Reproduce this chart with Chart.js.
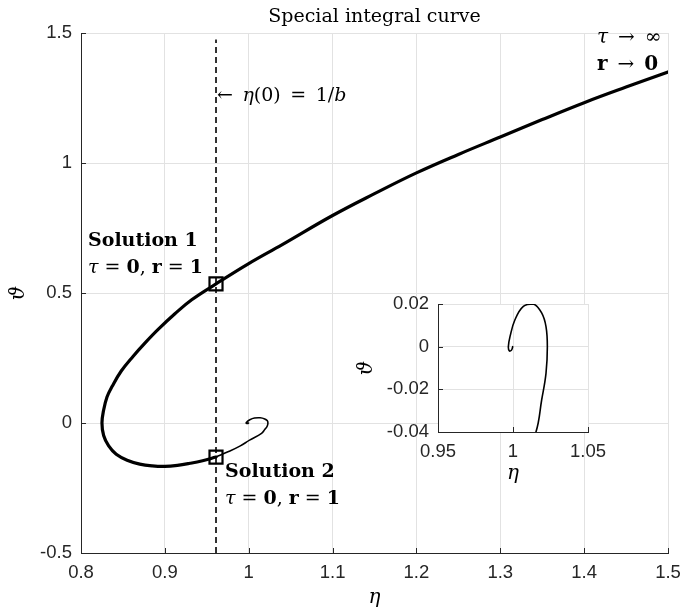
<!DOCTYPE html>
<html>
<head>
<meta charset="utf-8">
<script src="https://cdn.jsdelivr.net/npm/chart.js@4/dist/chart.umd.min.js"></script>
<style>
  html, body { margin: 0; padding: 0; background: #fff; }
  #wrap { position: relative; width: 682px; height: 612px; }
  #main { position: absolute; left: 0; top: 0; }
  #inset { position: absolute; left: 330px; top: 290px; }
</style>
</head>
<body>
<div id="wrap">
  <canvas id="main" width="682" height="612"></canvas>
  <canvas id="inset" width="280" height="200"></canvas>
</div>
<script>
// Outer branch: from solution 2 round the left loop, through solution 1, out to large eta
const outerEta = [0.961, 0.945, 0.930, 0.915, 0.900, 0.885, 0.870, 0.855, 0.842, 0.833, 0.827, 0.825,
                  0.827, 0.831, 0.837, 0.848, 0.862, 0.877, 0.892, 0.912, 0.932, 0.961, 1.000, 1.040,
                  1.100, 1.150, 1.200, 1.250, 1.300, 1.350, 1.400, 1.450, 1.500];
const outerTheta = [-0.131, -0.145, -0.155, -0.163, -0.167, -0.165, -0.158, -0.143, -0.120, -0.088, -0.048, 0.000,
                    0.050, 0.100, 0.140, 0.200, 0.256, 0.310, 0.360, 0.420, 0.474, 0.535, 0.613, 0.686,
                    0.798, 0.882, 0.962, 1.033, 1.100, 1.167, 1.232, 1.292, 1.350];

// Inner branch: from solution 2 spiralling into the fixed point (1, 0)
const innerEta = [0.961, 0.976, 0.990, 1.001, 1.0153, 1.0191, 1.0220, 1.0229, 1.0220, 1.0191, 1.0136,
                  1.0069, 1.0013, 0.9980, 0.9969, 0.9976, 0.9991, 0.9998];
const innerTheta = [-0.131, -0.110, -0.088, -0.066, -0.040, -0.025, -0.0125, 0.000, 0.0094, 0.0158, 0.0200,
                    0.0189, 0.0126, 0.0047, 0.0000, -0.0020, -0.0015, 0.0000];

// The two solutions at tau = 0
const solutionEta = [0.961, 0.961];
const solutionTheta = [0.535, -0.131];

// Initial value eta(0) = 1/b
const etaZero = 0.961;
const etaZeroTheta = [-0.5, 1.475];

// Axis ticks
const xTicks = [0.8, 0.9, 1.0, 1.1, 1.2, 1.3, 1.4, 1.5];
const xTickLabels = ['0.8', '0.9', '1', '1.1', '1.2', '1.3', '1.4', '1.5'];
const yTicks = [-0.5, 0, 0.5, 1, 1.5];
const yTickLabels = ['-0.5', '0', '0.5', '1', '1.5'];
const insetXTicks = [0.95, 1.0, 1.05];
const insetXTickLabels = ['0.95', '1', '1.05'];
const insetYTicks = [-0.04, -0.02, 0, 0.02];
const insetYTickLabels = ['-0.04', '-0.02', '0', '0.02'];

const SERIF = "'DejaVu Serif'";
const SANS = "'Liberation Sans', Arial, sans-serif";
const AXIS = '#262626';
const GRID = '#e2e2e2';

const pts = (xs, ys) => xs.map((x, i) => ({ x: x, y: ys[i] }));
const labelFor = (ticks, labels) => (v) => {
  const i = ticks.findIndex(t => Math.abs(t - v) < 1e-9);
  return i >= 0 ? labels[i] : '';
};

// Linear axis with fixed ticks; its size is pinned so the plot box lands where the layout wants it
function linearAxis(min, max, ticks, labels, size) {
  return {
    type: 'linear', min: min, max: max,
    afterBuildTicks: (s) => { s.ticks = ticks.map(v => ({ value: v })); },
    afterFit: (s) => {
      if (s.isHorizontal()) s.height = size; else s.width = size;
      s.paddingLeft = 0; s.paddingRight = 0; s.paddingTop = 0; s.paddingBottom = 0;
    },
    grid: { color: GRID, lineWidth: 1, drawTicks: false },
    border: { display: true, color: AXIS, width: 1 },
    ticks: { color: AXIS, font: { family: SANS, size: 18.5 }, padding: 9,
             maxRotation: 0, autoSkip: false, callback: labelFor(ticks, labels) }
  };
}

// Short inward tick marks on the left and bottom axes
const inwardTicks = {
  id: 'inwardTicks',
  beforeDatasetsDraw(chart) {
    const { ctx, chartArea: a, scales } = chart;
    ctx.save();
    ctx.strokeStyle = AXIS; ctx.lineWidth = 1;
    ctx.beginPath();
    scales.x.ticks.forEach(t => {
      const px = Math.round(scales.x.getPixelForValue(t.value)) + 0.5;
      ctx.moveTo(px, a.bottom); ctx.lineTo(px, a.bottom - 5);
    });
    scales.y.ticks.forEach(t => {
      const py = Math.round(scales.y.getPixelForValue(t.value)) + 0.5;
      ctx.moveTo(a.left, py); ctx.lineTo(a.left + 5, py);
    });
    ctx.stroke();
    ctx.restore();
  }
};

// Draw a line of text made of runs in different fonts
function drawRuns(ctx, runs, x, y, align) {
  ctx.save();
  ctx.fillStyle = '#000';
  ctx.textBaseline = 'alphabetic';
  ctx.textAlign = 'left';
  let total = 0;
  const widths = runs.map(r => { ctx.font = r[1]; const w = ctx.measureText(r[0]).width; total += w; return w; });
  let cx = align === 'center' ? x - total / 2 : align === 'right' ? x - total : x;
  runs.forEach((r, i) => { ctx.font = r[1]; ctx.fillText(r[0], cx, y); cx += widths[i]; });
  ctx.restore();
}

function drawRotated(ctx, text, font, x, y) {
  ctx.save();
  ctx.translate(x, y);
  ctx.rotate(-Math.PI / 2);
  ctx.font = font;
  ctx.fillStyle = '#000';
  ctx.textAlign = 'center';
  ctx.textBaseline = 'middle';
  ctx.fillText(text, 0, 0);
  ctx.restore();
}

const R = `19px ${SERIF}`;
const I = `italic 19px ${SERIF}`;
const B = `bold 19px ${SERIF}`;
const R2 = `20px ${SERIF}`;
const I2 = `italic 20px ${SERIF}`;
const B2 = `bold 20px ${SERIF}`;
const EN = '\u2002';

const mainText = {
  id: 'mainText',
  afterDraw(chart) {
    const ctx = chart.ctx;
    const a = chart.chartArea;
    drawRuns(ctx, [['Special integral curve', `19px ${SERIF}`]], (a.left + a.right) / 2, 22, 'center');
    drawRuns(ctx, [['\u03B7', `italic 20px ${SERIF}`]], (a.left + a.right) / 2, 603, 'center');
    drawRotated(ctx, '\u03D1', `italic 20px ${SERIF}`, 19, (a.top + a.bottom) / 2);

    const xl = chart.scales.x.getPixelForValue(etaZero);
    drawRuns(ctx, [['\u2190' + EN, R], ['\u03B7', I], ['(0)' + EN + '=' + EN + '1/', R], ['b', I]], xl + 1, 101, 'left');

    const sol = [['\u03C4', I], [' = ', R], ['0', B], [', ', R], ['r', B], [' = ', R], ['1', B]];
    drawRuns(ctx, [['Solution 1', B]], 88, 246, 'left');
    drawRuns(ctx, sol, 88, 273, 'left');
    drawRuns(ctx, [['Solution 2', B]], 225, 477, 'left');
    drawRuns(ctx, sol, 225, 504, 'left');

    drawRuns(ctx, [['\u03C4', I2], [EN + '\u2192' + EN + '\u221E', R2]], 597, 43, 'left');
    drawRuns(ctx, [['r', B2], [EN + '\u2192' + EN, R2], ['0', B2]], 597, 70, 'left');
  }
};

new Chart(document.getElementById('main'), {
  type: 'scatter',
  data: {
    datasets: [
      { data: pts([etaZero, etaZero], etaZeroTheta), showLine: true, borderColor: '#000',
        borderWidth: 1.6, borderDash: [6, 4], pointRadius: 0, tension: 0 },
      { data: pts(outerEta, outerTheta), showLine: true, borderColor: '#000', borderWidth: 3.2,
        pointRadius: 0, tension: 0.4, borderCapStyle: 'round', borderJoinStyle: 'round' },
      { data: pts(innerEta, innerTheta), showLine: true, borderColor: '#000', borderWidth: 1.6,
        pointRadius: 0, tension: 0.4, borderCapStyle: 'round', borderJoinStyle: 'round' },
      { data: pts(solutionEta, solutionTheta), showLine: false, pointStyle: 'rect', pointRadius: 9.2,
        borderColor: '#000', borderWidth: 2.2, backgroundColor: 'rgba(0,0,0,0)' }
    ]
  },
  options: {
    responsive: false, animation: false, devicePixelRatio: 1,
    layout: { padding: { left: 0, top: 33, right: 14, bottom: 0 } },
    plugins: { legend: { display: false }, tooltip: { enabled: false } },
    scales: {
      x: linearAxis(0.8, 1.5, xTicks, xTickLabels, 59),
      y: linearAxis(-0.5, 1.5, yTicks, yTickLabels, 81)
    }
  },
  plugins: [inwardTicks, mainText]
});

// Zoomed view of the spiral near (1, 0)
const insetBg = {
  id: 'insetBg',
  beforeDraw(chart) {
    const { ctx, chartArea: a } = chart;
    ctx.save(); ctx.fillStyle = '#fff';
    ctx.fillRect(a.left, a.top, a.right - a.left, a.bottom - a.top);
    ctx.restore();
  }
};
const insetText = {
  id: 'insetText',
  afterDraw(chart) {
    const ctx = chart.ctx;
    const a = chart.chartArea;
    drawRuns(ctx, [['\u03B7', `italic 20px ${SERIF}`]], (a.left + a.right) / 2, 189, 'center');
    drawRotated(ctx, '\u03D1', `italic 20px ${SERIF}`, 37, (a.top + a.bottom) / 2);
  }
};

new Chart(document.getElementById('inset'), {
  type: 'scatter',
  data: {
    datasets: [
      { data: pts(innerEta, innerTheta), showLine: true, borderColor: '#000', borderWidth: 1.6,
        pointRadius: 0, tension: 0.4, borderCapStyle: 'round', borderJoinStyle: 'round' }
    ]
  },
  options: {
    responsive: false, animation: false, devicePixelRatio: 1,
    layout: { padding: { left: 0, top: 14, right: 22, bottom: 0 } },
    plugins: { legend: { display: false }, tooltip: { enabled: false } },
    scales: {
      x: linearAxis(0.95, 1.05, insetXTicks, insetXTickLabels, 58),
      y: linearAxis(-0.04, 0.02, insetYTicks, insetYTickLabels, 108)
    }
  },
  plugins: [insetBg, inwardTicks, insetText]
});
</script>
</body>
</html>
